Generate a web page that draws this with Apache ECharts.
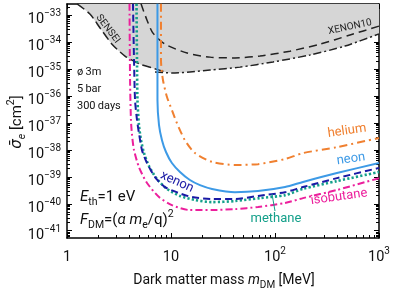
<!DOCTYPE html>
<html><head><meta charset="utf-8">
<script src="https://cdn.jsdelivr.net/npm/echarts@6/dist/echarts.min.js"></script>
<style>html,body{margin:0;padding:0;background:#fff}#c{width:395px;height:289px}</style>
</head><body><div id="c"></div>
<script>
// ---- axis ranges and ticks (physical units) ----
const xRange = [1, 1000];              // MeV
const yRange = [5.37e-42, 2.57e-33];   // cm^2
const xTicks = [1, 10, 100, 1000];
const yTicks = [1e-41, 1e-40, 1e-39, 1e-38, 1e-37, 1e-36, 1e-35, 1e-34, 1e-33];

// ---- existing limits [mass MeV, cross section cm^2] ----
const sensei = [[1.25,2.6e-33],[1.66,1.10e-33],[2.08,3.31e-34],[2.71,8.32e-35],[3.61,3.02e-35],[5.03,1.51e-35],[6.71,1.07e-35],[8.75,7.76e-36]];
const xenon10 = [[5.15,2.6e-33],[5.88,6.46e-34],[6.71,2.14e-34],[8.75,8.32e-35],[14.3,3.89e-35],[23.7,2.75e-35],[41.2,2.57e-35],[71.7,3.02e-35],[139,4.57e-35],[271,8.32e-35],[526,1.82e-34],[1000,3.89e-34]];
const otherLimit = [[7.02,7.76e-36],[10.9,7.08e-36],[15.2,7.76e-36],[23.7,9.12e-36],[46.1,1.17e-35],[95.7,1.82e-35],[217,3.31e-35],[471,7.08e-35],[1000,2.0e-34]];

// ---- projected sensitivities ----
const isobutane = [[3.99,2.6e-33],[4.04,3.89e-36],[4.12,1.29e-37],[4.22,3.55e-38],[4.41,9.77e-39],[4.92,2.29e-39],[5.88,5.89e-40],[7.67,1.78e-40],[10.2,8.91e-41],[14.9,5.89e-41],[24.8,5.89e-41],[41.2,6.31e-41],[68.7,7.59e-41],[125,1.07e-40],[186,1.62e-40],[394,3.24e-40],[1000,8.91e-40]];
const xenon = [[4.31,2.6e-33],[4.41,2.14e-35],[4.51,7.08e-37],[4.71,1.29e-37],[4.92,4.17e-38],[5.26,9.77e-39],[5.88,3.24e-39],[7.02,9.77e-40],[8.75,4.17e-40],[11.9,2.51e-40],[15.9,1.78e-40],[24.8,1.51e-40],[41.2,1.51e-40],[68.7,1.95e-40],[125,2.69e-40],[186,4.17e-40],[394,8.91e-40],[1000,2.14e-39]];
const methane = [[4.66,2.6e-33],[4.71,2.14e-35],[4.76,7.08e-37],[4.92,8.32e-38],[5.15,2.29e-38],[5.50,7.59e-39],[6.14,2.51e-39],[7.33,8.32e-40],[9.15,3.55e-40],[12.2,1.95e-40],[17.0,1.38e-40],[24.8,1.15e-40],[41.2,1.26e-40],[71.7,1.62e-40],[125,2.09e-40],[186,3.55e-40],[394,6.92e-40],[1000,1.51e-39]];
const neon = [[7.41,2.6e-33],[7.41,7.08e-37],[7.67,8.32e-38],[8.19,2.29e-38],[8.95,8.32e-39],[10.2,3.24e-39],[12.2,1.51e-39],[15.2,7.59e-40],[19.0,4.90e-40],[24.8,3.55e-40],[41.2,2.69e-40],[68.7,2.95e-40],[125,4.17e-40],[186,6.46e-40],[394,1.38e-39],[1000,3.24e-39]];
const helium = [[8.01,2.6e-33],[8.01,2.14e-35],[8.37,3.89e-36],[9.15,9.12e-37],[10.2,3.02e-37],[11.4,9.77e-38],[13.6,2.29e-38],[17.0,7.59e-39],[24.8,3.55e-39],[41.2,2.75e-39],[68.7,2.95e-39],[125,4.57e-39],[186,7.59e-39],[394,1.26e-38],[1000,2.75e-38]];

// ---- helpers ----
const lg = Math.log10;
const L = d => d.map(p => [lg(p[0]), lg(p[1])]);
const xMin = lg(xRange[0]), xMax = lg(xRange[1]);
const yMin = lg(yRange[0]), yMax = lg(yRange[1]);
const xMajor = xTicks.map(lg);
const yMajor = yTicks.map(v => Math.round(lg(v)));
const minorOf = (lo, hi) => { const out = []; for (let d = Math.floor(lo); d < Math.ceil(hi); d++) for (let k = 2; k <= 9; k++) { const v = d + lg(k); if (v > lo && v < hi) out.push(v); } return out; };
const xMinor = minorOf(xMin, xMax);
const yMinor = minorOf(yMin, yMax);

// excluded region envelope: SENSEI then the lower limit beyond it
const lastSensei = sensei[sensei.length - 1][0];
const envelope = sensei.concat(otherLimit.filter(p => p[0] > lastSensei));

const FONT = 'Roboto, "DejaVu Sans", sans-serif';
const tickRich = {
  b: { fontFamily: FONT, fontSize: 14.5, lineHeight: 22, color: '#111' },
  sup: { fontFamily: FONT, fontSize: 10, lineHeight: 12, verticalAlign: 'top', color: '#111' }
};
const xFmt = v => { const n = Math.round(v); if (n === 0) return '{b|1}'; if (n === 1) return '{b|10}'; return '{b|10}{sup|' + n + '}'; };
const yFmt = v => '{b|10}{sup|\u2212' + Math.abs(Math.round(v)) + '}';

function xAxisPair(pos, labels) {
  return [
    { type: 'value', min: xMin, max: xMax, position: pos,
      axisLine: { show: true, onZero: false, lineStyle: { color: '#000', width: 1.5 } },
      axisTick: { show: true, inside: true, length: 5, customValues: xMajor, lineStyle: { color: '#000', width: 1 } },
      axisLabel: labels ? { show: true, customValues: xMajor, formatter: xFmt, rich: tickRich, margin: 8 } : { show: false },
      splitLine: { show: false } },
    { type: 'value', min: xMin, max: xMax, position: pos,
      axisLine: { show: false, onZero: false },
      axisTick: { show: true, inside: true, length: 3, customValues: xMinor, lineStyle: { color: '#000', width: 1 } },
      axisLabel: { show: false }, splitLine: { show: false } }
  ];
}
function yAxisPair(pos, labels) {
  return [
    { type: 'value', min: yMin, max: yMax, position: pos,
      axisLine: { show: true, onZero: false, lineStyle: { color: '#000', width: 1.5 } },
      axisTick: { show: true, inside: true, length: 5, customValues: yMajor, lineStyle: { color: '#000', width: 1 } },
      axisLabel: labels ? { show: true, customValues: yMajor, formatter: yFmt, rich: tickRich, margin: 6, padding: [9, 0, 0, 0] } : { show: false },
      splitLine: { show: false } },
    { type: 'value', min: yMin, max: yMax, position: pos,
      axisLine: { show: false, onZero: false },
      axisTick: { show: true, inside: true, length: 3, customValues: yMinor, lineStyle: { color: '#000', width: 1 } },
      axisLabel: { show: false }, splitLine: { show: false } }
  ];
}

function line(name, data, color, width, type, z) {
  return { name, type: 'line', data: L(data), xAxisIndex: 0, yAxisIndex: 0, symbol: 'none', smooth: 0.25,
    clip: true, silent: true, z: z, lineStyle: { color, width, type, cap: 'butt' } };
}

const txt = (x, y, text, extra, rot) => ({ type: 'text', x, y, rotation: rot || 0, z: 100,
  style: Object.assign({ text, fontFamily: FONT, fontSize: 13, fill: '#111', align: 'center', verticalAlign: 'middle',
    textAlign: 'center', textVerticalAlign: 'middle' }, extra) });

const formulaRich = {
  i: { fontFamily: FONT, fontSize: 15, fontStyle: 'italic', lineHeight: 22, color: '#111' },
  n: { fontFamily: FONT, fontSize: 15, lineHeight: 22, color: '#111' },
  sub: { fontFamily: FONT, fontSize: 10.5, lineHeight: 14, verticalAlign: 'bottom', color: '#111' },
  sup: { fontFamily: FONT, fontSize: 10.5, lineHeight: 14, verticalAlign: 'top', color: '#111' }
};

const chart = echarts.init(document.getElementById('c'), null, { renderer: 'canvas' });
chart.setOption({
  animation: false,
  backgroundColor: '#fff',
  grid: { left: 67, right: 16, top: 4, bottom: 51, containLabel: false },
  xAxis: xAxisPair('bottom', true).concat(xAxisPair('top', false)),
  yAxis: yAxisPair('left', true).concat(yAxisPair('right', false)),
  series: [
    { name: 'excluded', type: 'line', data: L(envelope), xAxisIndex: 0, yAxisIndex: 0, symbol: 'none', smooth: 0.25, silent: true, z: 1,
      lineStyle: { width: 0, opacity: 0 }, areaStyle: { origin: 'end', color: '#d6d6d6', opacity: 1 } },
    line('SENSEI', sensei, '#222', 1.5, [9, 4], 2),
    line('XENON10', xenon10, '#222', 1.5, [8, 5], 2),
    line('limit', otherLimit, '#222', 1.5, [8, 3, 2, 3], 2),
    line('helium', helium, '#f08030', 2, [8, 4, 2, 4], 3),
    line('neon', neon, '#3d9ae6', 2, 'solid', 3),
    line('isobutane', isobutane, '#ec1f9c', 2, [7, 3, 2, 3], 3),
    line('methane', methane, '#14a08a', 2.6, [2.2, 2.2], 3),
    line('xenon', xenon, '#1a1aa5', 2, [7, 4], 4)
  ],
  graphic: { elements: [
    txt(108, 29, 'SENSEI', { fontSize: 10, fill: '#222' }, -0.925),
    txt(350, 27, 'XENON10', { fontSize: 10, fill: '#222' }, 0.21),
    txt(77, 72, '\u00f8\u20093m', { fontSize: 11, align: 'left', textAlign: 'left' }),
    txt(77, 89, '5\u2009bar', { fontSize: 11, align: 'left', textAlign: 'left' }),
    txt(77, 106, '300\u2009days', { fontSize: 11, align: 'left', textAlign: 'left' }),
    txt(80, 197, '{i|E}{sub|th}{n|=1 eV}', { rich: formulaRich, align: 'left', textAlign: 'left' }),
    txt(80, 220, '{i|F}{sub|DM}{n|=(}{i|\u03b1 m}{sub|e}{n|/q)}{sup|2}', { rich: formulaRich, align: 'left', textAlign: 'left' }),
    txt(347, 131, 'helium', { fill: '#f08030' }, 0.14),
    txt(351, 159, 'neon', { fill: '#3d9ae6' }, 0.14),
    txt(177, 182, 'xenon', { fill: '#1a1aa5' }, -0.42),
    txt(339, 197, 'isobutane', { fill: '#ec1f9c' }, 0.14),
    txt(276, 219, 'methane', { fill: '#14a08a' }),
    { type: 'line', z: 100, shape: { x1: 275, y1: 211, x2: 272, y2: 194 }, style: { stroke: '#14a08a', lineWidth: 1 } },
    txt(224, 280, '{n|Dark matter mass }{i|m}{sub|DM}{n| [MeV]}', { rich: {
      i: { fontFamily: FONT, fontSize: 14, fontStyle: 'italic', lineHeight: 20, color: '#111' },
      n: { fontFamily: FONT, fontSize: 14, lineHeight: 20, color: '#111' },
      sub: { fontFamily: FONT, fontSize: 10, lineHeight: 13, verticalAlign: 'bottom', color: '#111' } } }),
    txt(17, 122, '{s|\u03c3\u0304}{sub|e}{n| [cm}{sup|2}{n|]}', { rich: {
      s: { fontFamily: FONT, fontSize: 15, fontStyle: 'italic', lineHeight: 22, color: '#111' },
      n: { fontFamily: FONT, fontSize: 15, lineHeight: 22, color: '#111' },
      sub: { fontFamily: FONT, fontSize: 10.5, fontStyle: 'italic', lineHeight: 14, verticalAlign: 'bottom', color: '#111' },
      sup: { fontFamily: FONT, fontSize: 10.5, lineHeight: 14, verticalAlign: 'top', color: '#111' } } }, Math.PI / 2)
  ] }
});
</script></body></html>
